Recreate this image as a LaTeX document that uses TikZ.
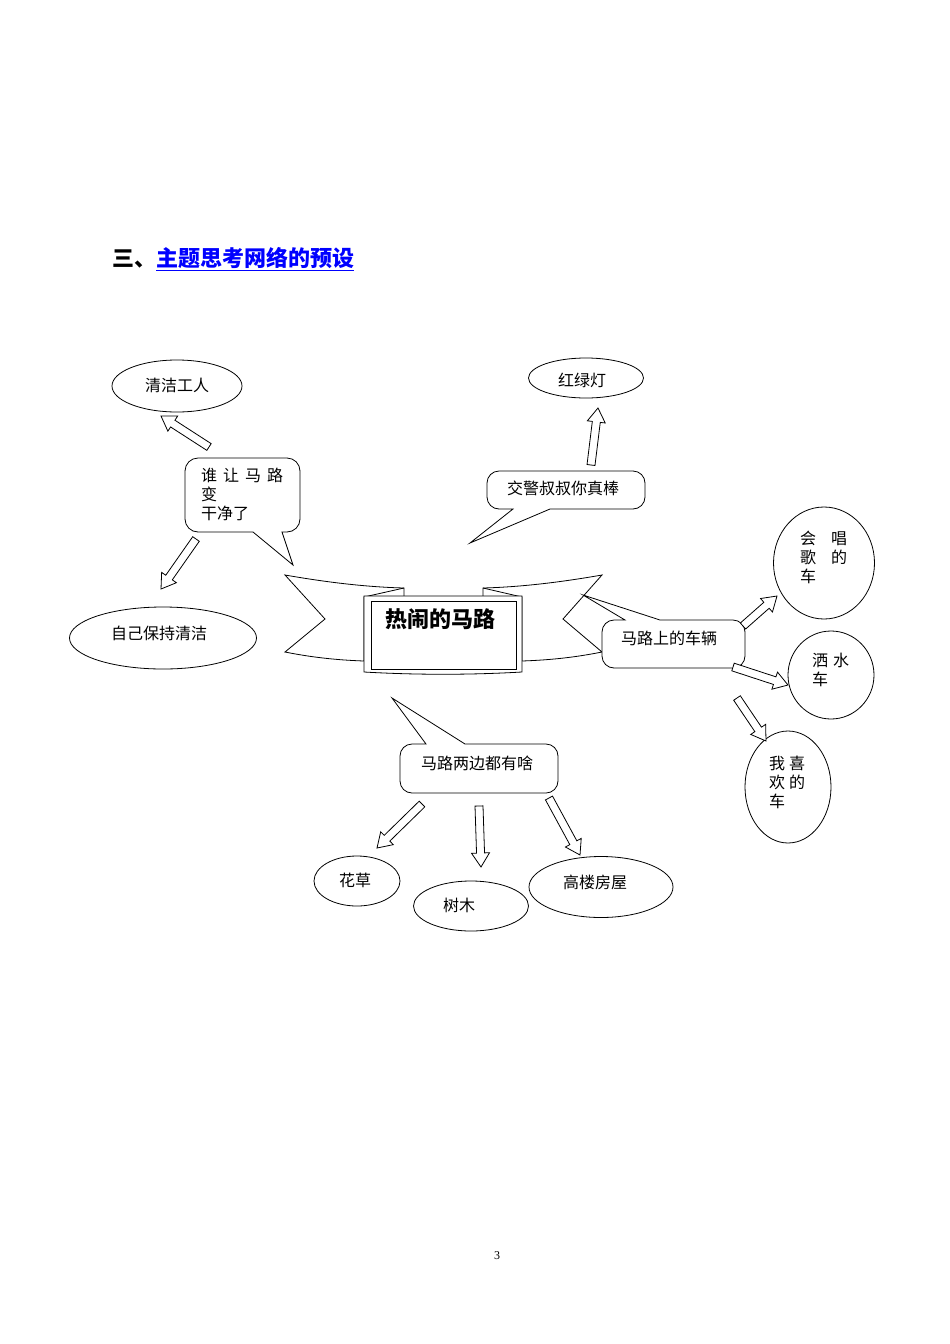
\documentclass[tikz,border=0pt]{standalone}
\usepackage{fontspec}
\setmainfont{Noto Sans CJK SC}
\newfontfamily\numfont{Liberation Serif}
\usetikzlibrary{calc,shapes.geometric}
\tikzset{
  ln/.style={line width=0.8pt},
  bubble/.style={ln, draw, fill=white},
  oval/.style={ln, draw, ellipse, inner sep=0pt},
  txt/.style={inner sep=0pt, font=\fontsize{16pt}{19pt}\selectfont},
  barrow/.style={ln, draw, fill=white, line join=miter},
}
\newcommand\blockarr[2]{%
  \path ($(#2)!14pt!(#1)$) coordinate (bh);
  \draw[barrow] ($(#1)!4pt!90:(#2)$) -- ($(bh)!4pt!90:(#2)$) -- ($(bh)!9pt!90:(#2)$) -- (#2)
     -- ($(bh)!9pt!-90:(#2)$) -- ($(bh)!4pt!-90:(#2)$) -- ($(#1)!4pt!-90:(#2)$) -- cycle;}
\begin{document}
\begin{tikzpicture}[x=1pt,y=-1pt]
\useasboundingbox (0,0) rectangle (950,1344);
% title
\node[anchor=west, inner sep=0pt, font=\fontsize{22pt}{24pt}\selectfont\bfseries] (title) at (112,259)
  {三、\textcolor{blue}{\underline{主题思考网络的预设}}};
% banner
\draw[bubble] (285,575) .. controls (325,582) and (365,587) .. (404,588) -- (404,597) -- (364,597)
  -- (364,661) .. controls (335,660) and (310,657) .. (285,652) -- (325,619) -- cycle;
\draw[ln] (404,588) -- (364,597);
\draw[bubble] (602,575) .. controls (562,582) and (522,587) .. (483,588) -- (483,597) -- (522,597)
  -- (522,661) .. controls (552,660) and (577,657) .. (602,652) -- (563,619) -- cycle;
\draw[ln] (483,588) -- (522,597);
\draw[bubble] (364,596) -- (522,596) -- (522,672) .. controls (470,675) and (416,675) .. (364,672) -- cycle;
\draw[ln] (371,601) rectangle (516,669);
\node[inner sep=0pt, font=\fontsize{22pt}{24pt}\selectfont\bfseries] (hub) at (440,619) {热闹的马路};
% callouts
\draw[bubble] (293,565) -- (253,532) [rounded corners=13pt] -- (185,532) -- (185,458) -- (300,458) -- (300,532) [sharp corners] -- (282,532) -- cycle;
\node[txt, anchor=north west, align=left] (who) at (201,468) {谁\hspace{6pt}让\hspace{6pt}马\hspace{6pt}路\\变\\干净了};
\draw[bubble] (470,543) -- (550,509) [rounded corners=12pt] -- (645,509) -- (645,471) -- (487,471) -- (487,509) [sharp corners] -- (513,509) -- cycle;
\node[txt] (police) at (563,488) {交警叔叔你真棒};
\draw[bubble] (583,595) -- (660,620) [rounded corners=12pt] -- (745,620) -- (745,668) -- (602,668) -- (602,620) [sharp corners] -- (625,620) -- cycle;
\node[txt] (cars) at (669,638) {马路上的车辆};
\draw[bubble] (392,698) -- (465,744) [rounded corners=12pt] -- (558,744) -- (558,793) -- (400,793) -- (400,744) [sharp corners] -- (426,744) -- cycle;
\node[txt] (sides) at (477,763) {马路两边都有啥};
% ovals
\node[oval, minimum width=130pt, minimum height=52pt] (e1) at (177,386) {};
\node[txt] at (177,385) {清洁工人};
\node[oval, minimum width=115pt, minimum height=40pt] (e2) at (586,378) {};
\node[txt] at (582,380) {红绿灯};
\node[oval, minimum width=187pt, minimum height=62pt] (e3) at (163,638) {};
\node[txt] at (159,633) {自己保持清洁};
\node[oval, minimum width=101pt, minimum height=112pt] (e4) at (824,563) {};
\node[txt, anchor=north west, align=left] at (800,531) {会\hspace{15pt}唱\\歌\hspace{15pt}的\\车};
\node[oval, minimum width=86pt, minimum height=88pt] (e5) at (831,675) {};
\node[txt, anchor=north west, align=left] at (812,653) {洒\hspace{5pt}水\\车};
\node[oval, minimum width=86pt, minimum height=112pt] (e6) at (788,787) {};
\node[txt, anchor=north west, align=left] at (769,756) {我\hspace{4pt}喜\\欢\hspace{4pt}的\\车};
\node[oval, minimum width=86pt, minimum height=50pt] (e7) at (357,881) {};
\node[txt] at (355,880) {花草};
\node[oval, minimum width=115pt, minimum height=50pt] (e8) at (471,906) {};
\node[txt] at (459,905) {树木};
\node[oval, minimum width=144pt, minimum height=61pt] (e9) at (601,887) {};
\node[txt] at (595,882) {高楼房屋};
% arrow ends
\coordinate (a1s) at (209,447); \coordinate (a1e) at (161,416);
\coordinate (a2s) at (196,539); \coordinate (a2e) at (161,589);
\coordinate (a3s) at (591,465); \coordinate (a3e) at (598,408);
\coordinate (a4s) at (743,626); \coordinate (a4e) at (777,596);
\coordinate (a5s) at (733,667); \coordinate (a5e) at (788,685);
\coordinate (a6s) at (737,698); \coordinate (a6e) at (766,741);
\coordinate (a7s) at (422,804); \coordinate (a7e) at (377,848);
\coordinate (a8s) at (479,806); \coordinate (a8e) at (481,867);
\coordinate (a9s) at (549,798); \coordinate (a9e) at (580,855);
\blockarr{a1s}{a1e}
\blockarr{a2s}{a2e}
\blockarr{a3s}{a3e}
\blockarr{a4s}{a4e}
\blockarr{a5s}{a5e}
\blockarr{a6s}{a6e}
\blockarr{a7s}{a7e}
\blockarr{a8s}{a8e}
\blockarr{a9s}{a9e}
% page number
\node[inner sep=0pt, font=\numfont\fontsize{12pt}{14pt}\selectfont] (pg) at (497,1256) {3};
\end{tikzpicture}
\end{document}
